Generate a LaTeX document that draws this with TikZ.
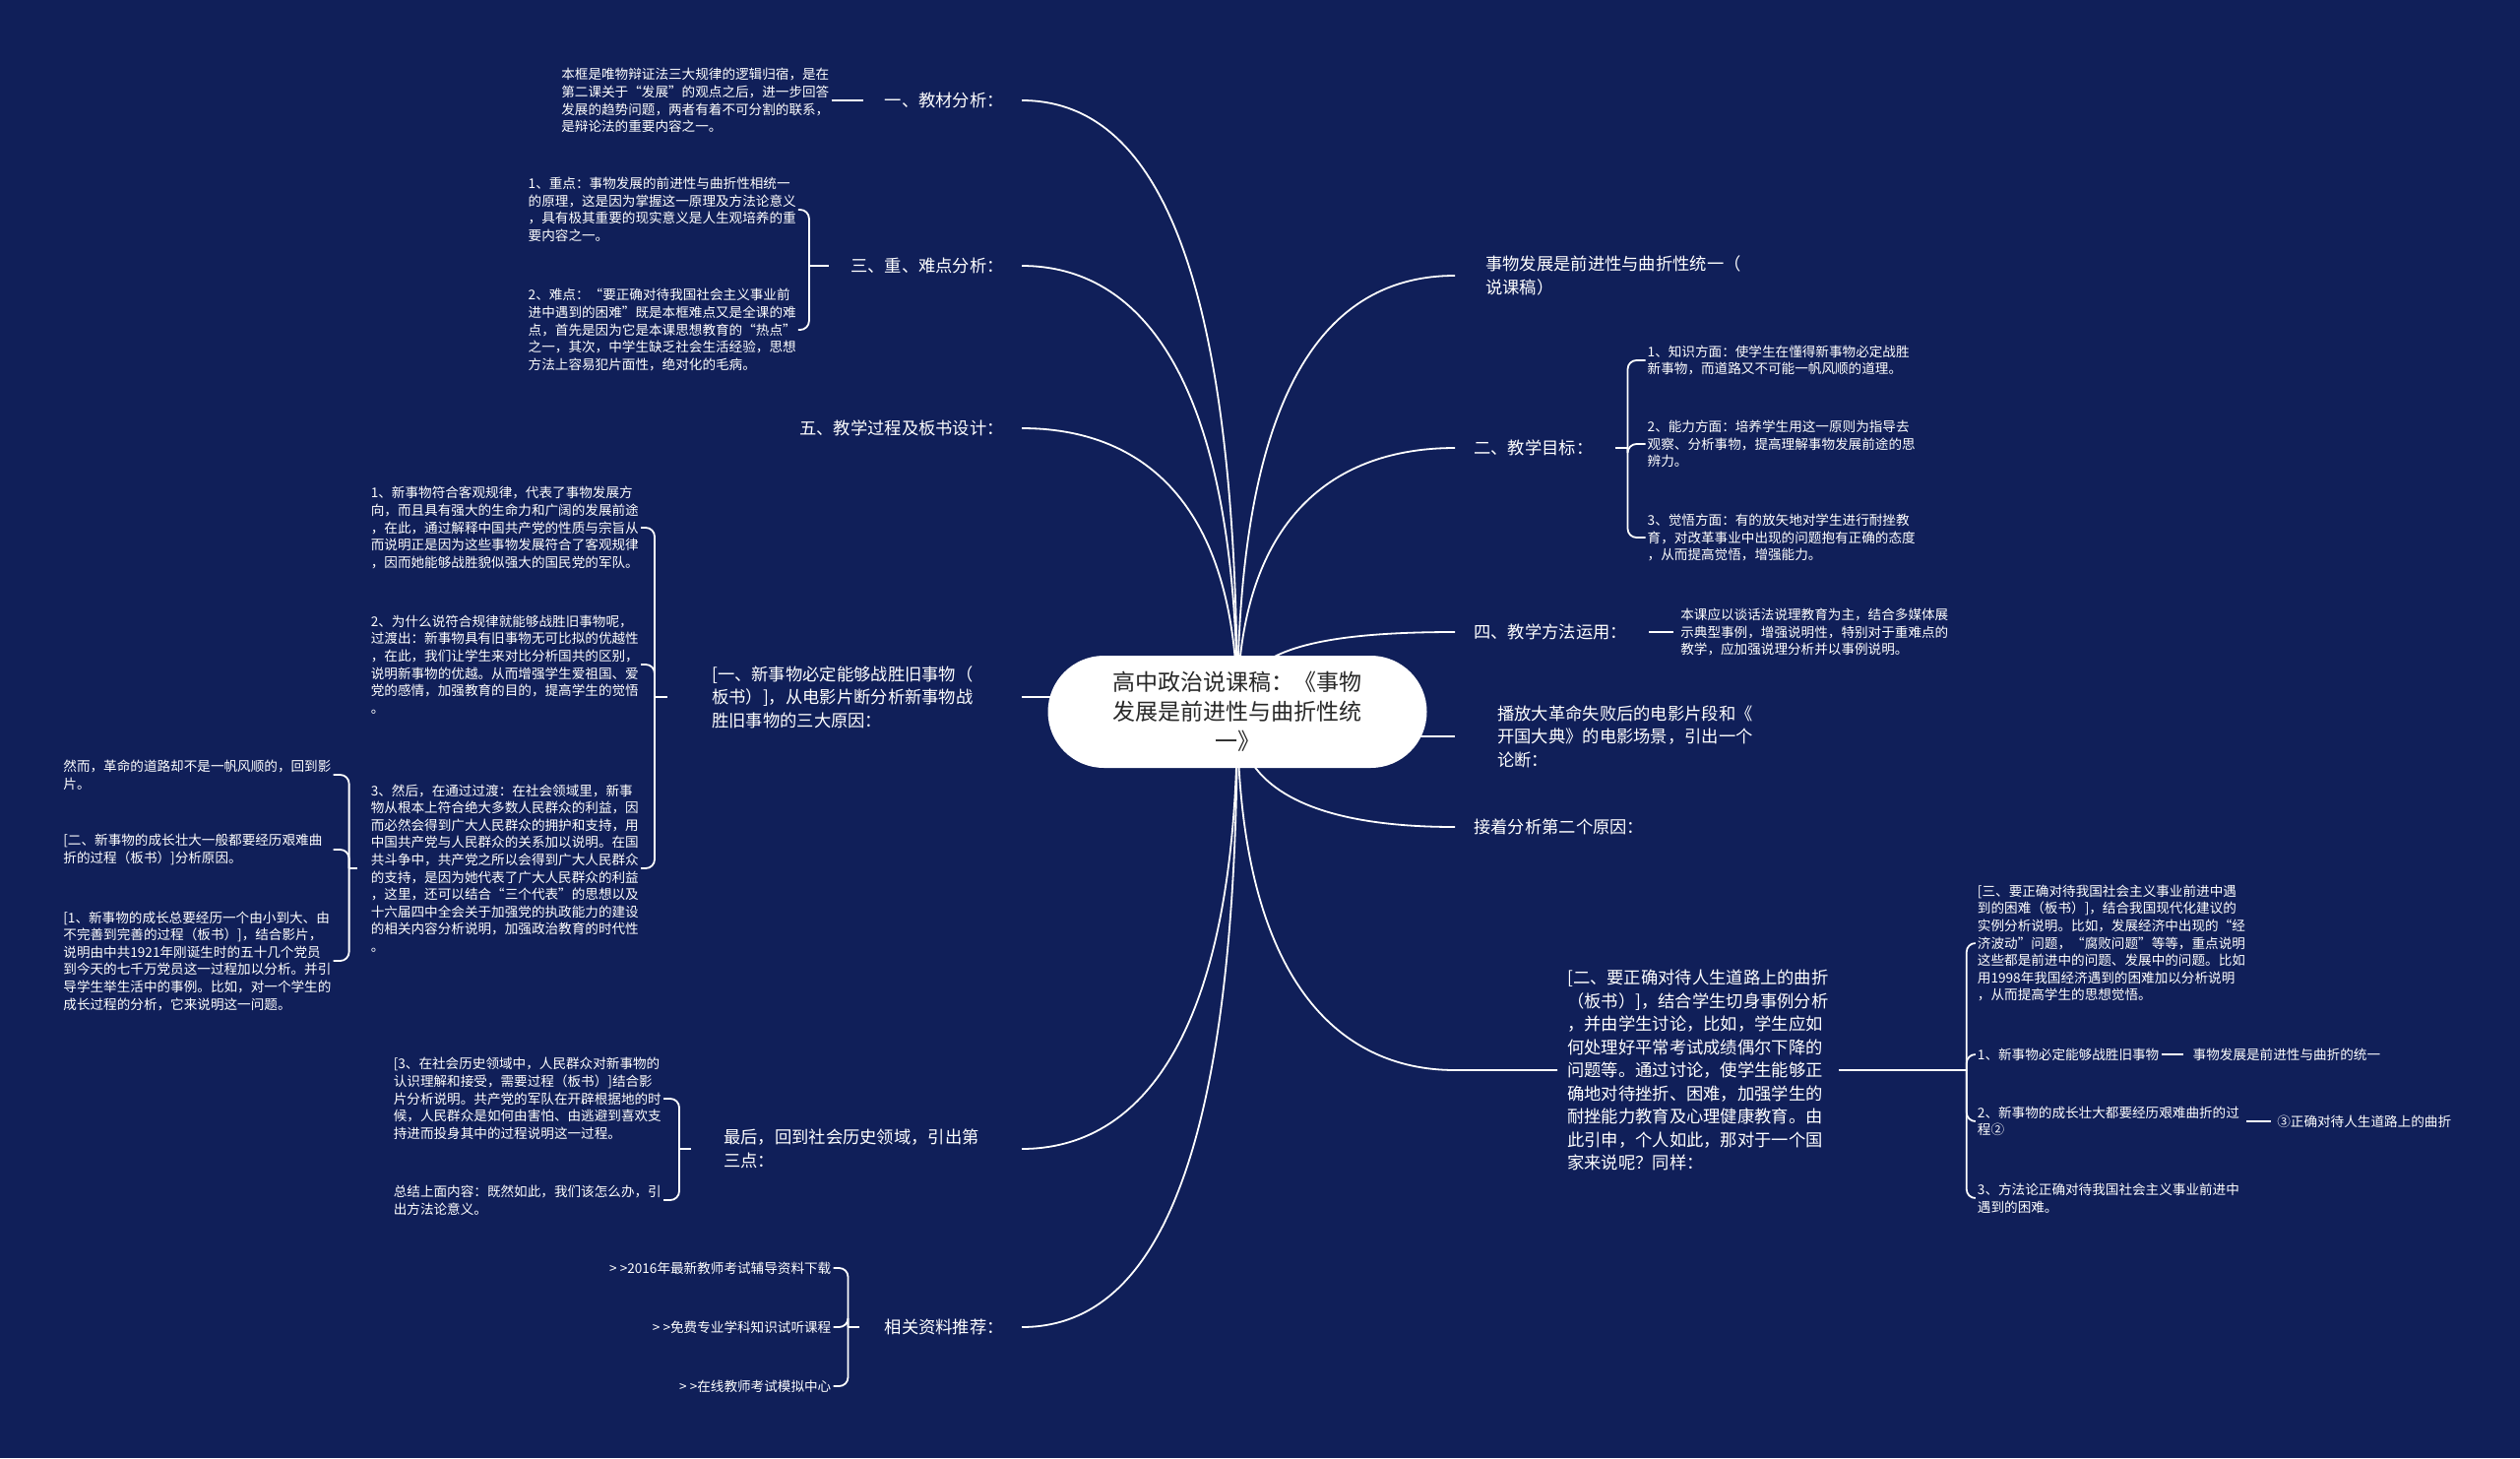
\documentclass[tikz,border=0pt]{standalone}
\usepackage{fontspec}
\setmainfont{Noto Sans CJK SC}
\usepackage{tikz}
\usetikzlibrary{positioning, calc}
\usepackage{xcolor}
\definecolor{mapbg}{RGB}{16,31,89}
\definecolor{roottext}{RGB}{40,40,40}
\pgfdeclarelayer{bg}
\pgfdeclarelayer{edges}
\pgfsetlayers{bg,edges,main}
\tikzstyle{centre} = [rectangle, fill=white, rounded corners=57pt, minimum width=385pt, minimum height=114pt, align=center, text=roottext, font=\fontsize{23}{30}\selectfont]
\tikzstyle{topic} = [text=white, inner xsep=10pt, inner ysep=2pt, align=left, font=\fontsize{17.3}{23.5}\selectfont]
\tikzstyle{leaf} = [text=white, inner sep=2pt, align=left, font=\fontsize{13.6}{17.6}\selectfont]
\tikzstyle{wideleaf} = [leaf, text width=272pt]
\tikzstyle{line} = [draw, white, line width=1.8pt]
\tikzstyle{brace} = [line, rounded corners=9pt]

\begin{document}
\begin{tikzpicture}[x=1pt, y=-1pt]
    \begin{pgfonlayer}{bg}
        \fill [mapbg] (0,0) rectangle (2560,1481);
    \end{pgfonlayer}

    % Place nodes
    \node [centre] (root) at (1257,723) {高中政治说课稿：《事物\\发展是前进性与曲折性统\\一》};
    \coordinate (jl) at (1038,723);
    \coordinate (jr) at (1478,723);

    % left side
    \node [topic, anchor=east] (l1) at (1030,102) {一、教材分析：};
    \node [leaf, left=44pt of l1] (c1) {本框是唯物辩证法三大规律的逻辑归宿，是在\\第二课关于“发展”的观点之后，进一步回答\\发展的趋势问题，两者有着不可分割的联系，\\是辩论法的重要内容之一。};

    \node [topic, anchor=east] (l3) at (1030,270) {三、重、难点分析：};
    \node [wideleaf, left=43pt of l3, yshift=57pt] (c31) {1、重点：事物发展的前进性与曲折性相统一\\的原理，这是因为掌握这一原理及方法论意义\\，具有极其重要的现实意义是人生观培养的重\\要内容之一。};
    \node [wideleaf, left=43pt of l3, yshift=-65pt] (c32) {2、难点：“要正确对待我国社会主义事业前\\进中遇到的困难”既是本框难点又是全课的难\\点，首先是因为它是本课思想教育的“热点”\\之一，其次，中学生缺乏社会生活经验，思想\\方法上容易犯片面性，绝对化的毛病。};

    \node [topic, anchor=east] (l5) at (1030,435) {五、教学过程及板书设计：};

    \node [topic, anchor=west] (lb) at (713,708) {[一、新事物必定能够战胜旧事物（\\板书）]，从电影片断分析新事物战\\胜旧事物的三大原因：};
    \node [wideleaf, left=62pt of lb, yshift=172pt] (cb1) {1、新事物符合客观规律，代表了事物发展方\\向，而且具有强大的生命力和广阔的发展前途\\，在此，通过解释中国共产党的性质与宗旨从\\而说明正是因为这些事物发展符合了客观规律\\，因而她能够战胜貌似强大的国民党的军队。};
    \node [wideleaf, left=62pt of lb, yshift=33pt] (cb2) {2、为什么说符合规律就能够战胜旧事物呢，\\过渡出：新事物具有旧事物无可比拟的优越性\\，在此，我们让学生来对比分析国共的区别，\\说明新事物的优越。从而增强学生爱祖国、爱\\党的感情，加强教育的目的，提高学生的觉悟\\。};
    \node [wideleaf, left=62pt of lb, yshift=-174pt] (cb3) {3、然后，在通过过渡：在社会领域里，新事\\物从根本上符合绝大多数人民群众的利益，因\\而必然会得到广大人民群众的拥护和支持，用\\中国共产党与人民群众的关系加以说明。在国\\共斗争中，共产党之所以会得到广大人民群众\\的支持，是因为她代表了广大人民群众的利益\\，这里，还可以结合“三个代表”的思想以及\\十六届四中全会关于加强党的执政能力的建设\\的相关内容分析说明，加强政治教育的时代性\\。};
    \node [wideleaf, left=36pt of cb3, yshift=95pt] (f1) {然而，革命的道路却不是一帆风顺的，回到影\\片。};
    \node [wideleaf, left=36pt of cb3, yshift=19pt] (f2) {[二、新事物的成长壮大一般都要经历艰难曲\\折的过程（板书）]分析原因。};
    \node [wideleaf, left=36pt of cb3, yshift=-94pt] (f3) {[1、新事物的成长总要经历一个由小到大、由\\不完善到完善的过程（板书）]，结合影片，\\说明由中共1921年刚诞生时的五十几个党员\\到今天的七千万党员这一过程加以分析。并引\\导学生举生活中的事例。比如，对一个学生的\\成长过程的分析，它来说明这一问题。};

    \node [topic, anchor=west] (l6) at (725,1167) {最后，回到社会历史领域，引出第\\三点：};
    \node [wideleaf, left=51pt of l6, yshift=51pt] (c61) {[3、在社会历史领域中，人民群众对新事物的\\认识理解和接受，需要过程（板书）]结合影\\片分析说明。共产党的军队在开辟根据地的时\\候，人民群众是如何由害怕、由逃避到喜欢支\\持进而投身其中的过程说明这一过程。};
    \node [wideleaf, left=51pt of l6, yshift=-52pt] (c62) {总结上面内容：既然如此，我们该怎么办，引\\出方法论意义。};

    \node [topic, anchor=east] (l7) at (1030,1348) {相关资料推荐：};
    \node [leaf, left=42pt of l7, yshift=60pt] (c71) {> >2016年最新教师考试辅导资料下载};
    \node [leaf, left=42pt of l7] (c72) {> >免费专业学科知识试听课程};
    \node [leaf, left=42pt of l7, yshift=-60pt] (c73) {> >在线教师考试模拟中心};

    % right side
    \node [topic, anchor=west] (r1) at (1499,280) {事物发展是前进性与曲折性统一（\\说课稿）};

    \node [topic, anchor=west] (r2) at (1487,455) {二、教学目标：};
    \node [leaf, right=43pt of r2, yshift=89pt] (d1) {1、知识方面：使学生在懂得新事物必定战胜\\新事物，而道路又不可能一帆风顺的道理。};
    \node [leaf, right=43pt of r2, yshift=4pt] (d2) {2、能力方面：培养学生用这一原则为指导去\\观察、分析事物，提高理解事物发展前途的思\\辨力。};
    \node [leaf, right=43pt of r2, yshift=-91pt] (d3) {3、觉悟方面：有的放矢地对学生进行耐挫教\\育，对改革事业中出现的问题抱有正确的态度\\，从而提高觉悟，增强能力。};

    \node [topic, anchor=west] (r4) at (1487,642) {四、教学方法运用：};
    \node [leaf, right=42pt of r4] (d4) {本课应以谈话法说理教育为主，结合多媒体展\\示典型事例，增强说明性，特别对于重难点的\\教学，应加强说理分析并以事例说明。};

    \node [topic, anchor=west] (r5) at (1511,748) {播放大革命失败后的电影片段和《\\开国大典》的电影场景，引出一个\\论断：};

    \node [topic, anchor=west] (r6) at (1487,840) {接着分析第二个原因：};

    \node [topic, anchor=west] (r7) at (1582,1087) {[二、要正确对待人生道路上的曲折\\（板书）]，结合学生切身事例分析\\，并由学生讨论，比如，学生应如\\何处理好平常考试成绩偶尔下降的\\问题等。通过讨论，使学生能够正\\确地对待挫折、困难，加强学生的\\耐挫能力教育及心理健康教育。由\\此引申，个人如此，那对于一个国\\家来说呢？同样：};
    \node [leaf, right=139pt of r7, yshift=129pt] (e1) {[三、要正确对待我国社会主义事业前进中遇\\到的困难（板书）]，结合我国现代化建议的\\实例分析说明。比如，发展经济中出现的“经\\济波动”问题，“腐败问题”等等，重点说明\\这些都是前进中的问题、发展中的问题。比如\\用1998年我国经济遇到的困难加以分析说明\\，从而提高学生的思想觉悟。};
    \node [leaf, right=139pt of r7, yshift=16pt] (e2) {1、新事物必定能够战胜旧事物};
    \node [leaf, right=139pt of r7, yshift=-52pt] (e3) {2、新事物的成长壮大都要经历艰难曲折的过\\程②};
    \node [leaf, right=139pt of r7, yshift=-130pt] (e4) {3、方法论正确对待我国社会主义事业前进中\\遇到的困难。};
    \node [leaf, right=30pt of e2] (g2) {事物发展是前进性与曲折的统一};
    \node [leaf, right=34pt of e3] (g3) {③正确对待人生道路上的曲折};

    % Draw edges
    \begin{pgfonlayer}{edges}
    \path [line] (l1.east -| jl) .. controls +(130,0) and +(0,-465) .. (root.center);
    \path [line] (l3.east -| jl) .. controls +(120,0) and +(0,-340) .. (root.center);
    \path [line] (l5.east -| jl) .. controls +(120,0) and +(0,-215) .. (root.center);
    \path [line] (lb.east -| jl) -- (lb.east -| root.center);
    \path [line] (l6.east -| jl) .. controls +(120,0) and +(0,330) .. (root.center);
    \path [line] (l7.east -| jl) .. controls +(130,0) and +(0,470) .. (root.center);

    \path [line] (r1.west -| jr) .. controls +(-130,0) and +(0,-330) .. (root.center);
    \path [line] (r2.west -| jr) .. controls +(-120,0) and +(0,-200) .. (root.center);
    \path [line] (r4.west -| jr) .. controls +(-150,0) and +(0,-60) .. (root.center);
    \path [line] (r5.west -| jr) -- (r5.west -| root.center);
    \path [line] (r6.west -| jr) .. controls +(-140,0) and +(0,80) .. (root.center);
    \path [line] (r7.west) -- (r7.west -| jr) .. controls +(-120,0) and +(0,270) .. (root.center);
    \end{pgfonlayer}

    \path [line, shorten >=12pt] (c1.east) -- (l1.west);

    \coordinate (b3) at ($(l3.west)+(-32,0)$);
    \path [line, shorten <=12pt] (l3.west) -- (b3);
    \path [brace] (b3) |- (c31.east);
    \path [brace] (b3) |- (c32.east);

    \coordinate (bb) at ($(lb.west)+(-48,0)$);
    \path [line, shorten <=35pt] (lb.west) -- (bb);
    \path [brace] (bb) |- (cb1.east);
    \path [brace] (bb) |- (cb2.east);
    \path [brace] (bb) |- (cb3.east);

    \coordinate (bf) at ($(cb3.west)+(-20,0)$);
    \path [line, shorten <=12pt] (cb3.west) -- (bf);
    \path [brace] (bf) |- (f1.east);
    \path [brace] (bf) |- (f2.east);
    \path [brace] (bf) |- (f3.east);

    \coordinate (b6) at ($(l6.west)+(-35,0)$);
    \path [line, shorten <=23pt] (l6.west) -- (b6);
    \path [brace] (b6) |- (c61.east);
    \path [brace] (b6) |- (c62.east);

    \coordinate (b7) at ($(l7.west)+(-27,0)$);
    \path [line, shorten <=16pt] (l7.west) -- (b7);
    \path [brace] (b7) |- (c71.east);
    \path [brace] (b7) |- (c72.east);
    \path [brace] (b7) |- (c73.east);

    \coordinate (b2) at ($(r2.east)+(25,0)$);
    \path [line, shorten <=12pt] (r2.east) -- (b2);
    \path [brace] (b2) |- (d1.west);
    \path [brace] (b2) |- (d2.west);
    \path [brace] (b2) |- (d3.west);

    \path [line, shorten <=12pt, shorten >=5pt] (r4.east) -- (d4.west);

    \coordinate (be) at ($(r7.east)+(130,0)$);
    \path [line] (r7.east) -- (be);
    \path [brace] (be) |- (e1.west);
    \path [brace] (be) |- (e2.west);
    \path [brace] (be) |- (e3.west);
    \path [brace] (be) |- (e4.west);
    \path [line, shorten >=8pt] (e2) -- (g2);
    \path [line, shorten <=5pt, shorten >=4pt] (e3) -- (g3);
\end{tikzpicture}
\end{document}
